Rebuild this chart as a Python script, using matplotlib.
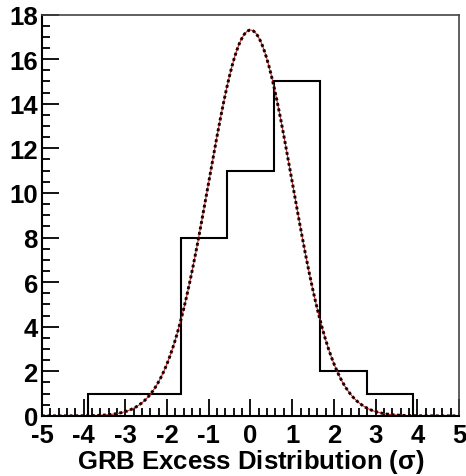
import numpy as np
import matplotlib
matplotlib.use("Agg")
import matplotlib.pyplot as plt
from matplotlib.ticker import MultipleLocator

# Histogram data
bin_edges = [-3.9, -2.786, -1.671, -0.557, 0.557, 1.671, 2.786, 3.9]
counts = [1, 1, 8, 11, 15, 2, 1]

# Gaussian fit parameters
fit_amplitude = 17.3
fit_mean = 0.0
fit_sigma = 1.0

x_ticks = [-5, -4, -3, -2, -1, 0, 1, 2, 3, 4, 5]
y_ticks = [0, 2, 4, 6, 8, 10, 12, 14, 16, 18]

plt.rcParams['font.family'] = 'Liberation Sans'
plt.rcParams['font.weight'] = 'bold'
plt.rcParams['mathtext.fontset'] = 'custom'
plt.rcParams['mathtext.rm'] = 'Liberation Sans'
plt.rcParams['mathtext.it'] = 'Liberation Sans:italic'
plt.rcParams['mathtext.bf'] = 'Liberation Sans:bold'

fig = plt.figure(figsize=(4.66, 4.77), dpi=100)
ax = fig.add_axes([0.090, 0.126, 0.895, 0.8415])

ax.stairs(counts, bin_edges, color='black', lw=1.5, baseline=0)

xf = np.linspace(-5, 5, 400)
yf = fit_amplitude * np.exp(-0.5 * ((xf - fit_mean) / fit_sigma) ** 2)
ax.plot(xf, yf, color='#cc2222', lw=0.8)
ax.plot(xf, yf, color='#1a0000', lw=2.1, linestyle=(0, (1, 0.9)))

ax.set_xlim(-5, 5)
ax.set_ylim(0, 18)
ax.set_xticks(x_ticks)
ax.set_yticks(y_ticks)
ax.set_xticklabels([str(v) for v in x_ticks], fontweight='bold', fontsize=18.5)
ax.set_yticklabels([str(v) for v in y_ticks], fontweight='bold', fontsize=18.5)
ax.xaxis.set_minor_locator(MultipleLocator(0.2))
ax.yaxis.set_minor_locator(MultipleLocator(0.5))

ax.tick_params(which='both', direction='in', top=False, right=False, width=1.3, color='black')
ax.tick_params(axis='x', which='major', length=12, pad=5)
ax.tick_params(axis='y', which='major', length=12, pad=3)
ax.tick_params(which='minor', length=6)

for s in ['left', 'bottom']:
    ax.spines[s].set_linewidth(1.5)
    ax.spines[s].set_color('black')
for s in ['top', 'right']:
    ax.spines[s].set_linewidth(1.2)
    ax.spines[s].set_color('#444444')

ax.set_xlabel(r'GRB Excess Distribution ($\mathrm{\sigma}$)', fontsize=18.5, fontweight='bold', labelpad=0)

fig.savefig('out.png', dpi=100)
